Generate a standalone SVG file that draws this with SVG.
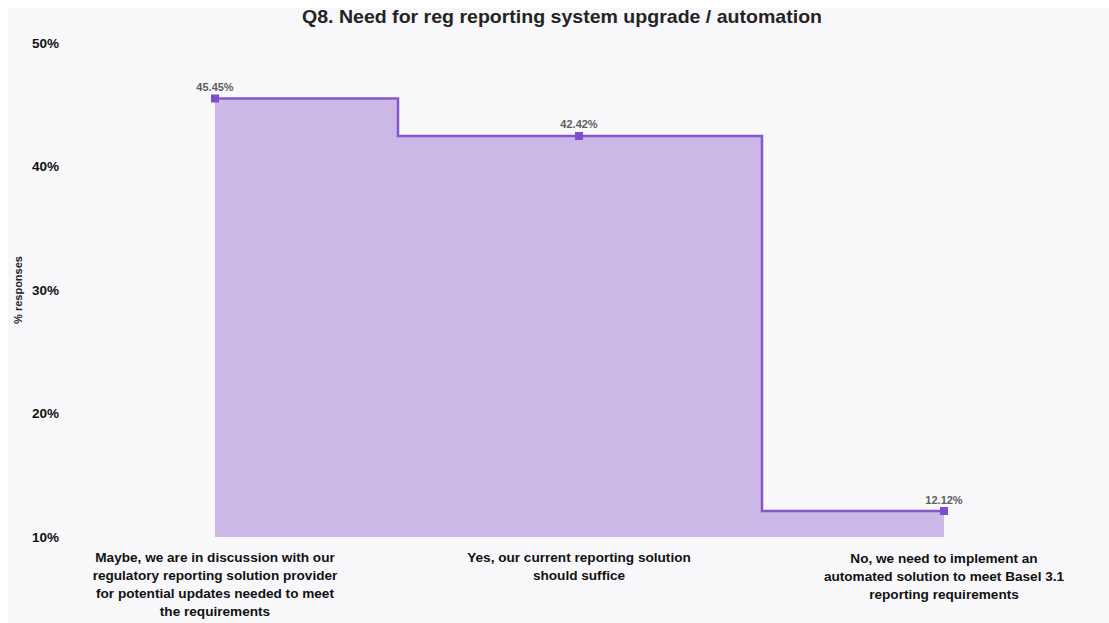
<svg xmlns="http://www.w3.org/2000/svg" width="1109" height="623" viewBox="0 0 1109 623">
  <style>
    .title { font-family: "Liberation Sans", Arial, sans-serif; font-weight: bold; font-size: 19px; fill: #252423; }
    .tick { font-family: "Liberation Sans", Arial, sans-serif; font-weight: bold; font-size: 13.5px; fill: #111; }
    .axis-title { font-family: "Liberation Sans", Arial, sans-serif; font-weight: bold; font-size: 11px; fill: #222; }
    .cat { font-family: "Liberation Sans", Arial, sans-serif; font-weight: bold; font-size: 13.6px; fill: #111; text-anchor: middle; }
    .val { font-family: "Liberation Sans", Arial, sans-serif; font-weight: bold; font-size: 11px; fill: #605e5c; text-anchor: middle; }
    .area { fill: #cbb8e6; stroke: none; }
    .step { fill: none; stroke: #8656d0; stroke-width: 2.5; }
    .pt { fill: #7c4dcc; }
  </style>

  <!-- canvas -->
  <rect x="0" y="0" width="1109" height="623" fill="#ffffff"/>
  <rect x="8" y="8" width="1101" height="615" fill="#f8f8fb"/>

  <!-- title -->
  <text class="title" x="562" y="23" text-anchor="middle" textLength="520" lengthAdjust="spacingAndGlyphs">Q8. Need for reg reporting system upgrade / automation</text>

  <!-- y axis -->
  <g id="y-axis">
    <text class="tick" x="32" y="48">50%</text>
    <text class="tick" x="32" y="171">40%</text>
    <text class="tick" x="32" y="295">30%</text>
    <text class="tick" x="32" y="418">20%</text>
    <text class="tick" x="32" y="542">10%</text>
    <text class="axis-title" transform="translate(22,290) rotate(-90)" text-anchor="middle">% responses</text>
  </g>

  <!-- stepped area series -->
  <g id="connectors">
    <path class="area" d="M215,537 L215,98.5 L398,98.5 L398,136 L762,136 L762,511 L944,511 L944,537 Z"/>
    <path class="step" d="M215,98.5 L398,98.5 L398,136 L762,136 L762,511 L944,511"/>
  </g>

  <g id="point-maybe">
    <rect class="pt" x="211" y="94.5" width="8" height="8"/>
    <text class="val" x="215" y="91">45.45%</text>
    <text class="cat" x="215" y="562">Maybe, we are in discussion with our</text>
    <text class="cat" x="215" y="580">regulatory reporting solution provider</text>
    <text class="cat" x="215" y="598">for potential updates needed to meet</text>
    <text class="cat" x="215" y="616">the requirements</text>
  </g>

  <g id="point-yes">
    <rect class="pt" x="575" y="132" width="8" height="8"/>
    <text class="val" x="579" y="128">42.42%</text>
    <text class="cat" x="579" y="562">Yes, our current reporting solution</text>
    <text class="cat" x="579" y="580">should suffice</text>
  </g>

  <g id="point-no">
    <rect class="pt" x="940" y="507" width="8" height="8"/>
    <text class="val" x="944" y="504">12.12%</text>
    <text class="cat" x="944" y="563">No, we need to implement an</text>
    <text class="cat" x="944" y="581">automated solution to meet Basel 3.1</text>
    <text class="cat" x="944" y="599">reporting requirements</text>
  </g>
</svg>
